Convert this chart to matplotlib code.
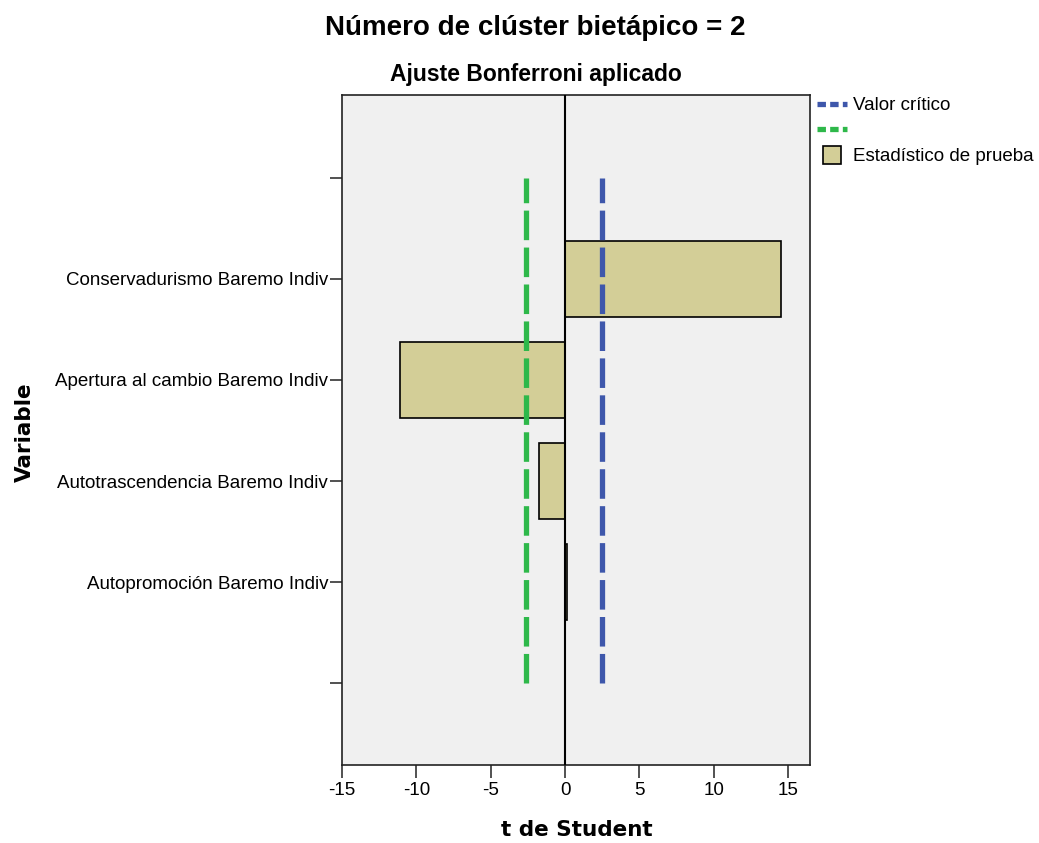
import matplotlib
matplotlib.use('Agg')
import matplotlib.pyplot as plt
from matplotlib.lines import Line2D

plt.rcParams['font.family'] = ['Liberation Sans', 'DejaVu Sans']

# data
variables = ['Autopromoción Baremo Indiv',
             'Autotrascendencia Baremo Indiv',
             'Apertura al cambio Baremo Indiv',
             'Conservadurismo Baremo Indiv']
t_values = [0.15, -1.75, -11.1, 14.55]
crit_low = -2.62
crit_high = 2.49

bar_color = '#d3ce97'
blue = '#3e57ab'
green = '#2eb84a'

fig = plt.figure(figsize=(10.39, 8.43), dpi=100)
ax = fig.add_axes([0.3292, 0.0925, 0.4504, 0.7948])
ax.set_facecolor('#f0f0f0')

ypos = list(range(1, len(variables) + 1))
ax.barh(ypos, t_values, height=0.75, color=bar_color, edgecolor='black', linewidth=1.2, zorder=2)
ax.axvline(0, color='black', linewidth=1.5, zorder=3)

dash = (0, (5.6, 1.4))
ax.plot([crit_high, crit_high], [0, 5], color=blue, linewidth=3.8, linestyle=dash, zorder=4)
ax.plot([crit_low, crit_low], [0, 5], color=green, linewidth=3.8, linestyle=dash, zorder=4)

ax.set_xlim(-15, 16.48)
ax.set_ylim(-0.81, 5.82)
ax.set_xticks([-15, -10, -5, 0, 5, 10, 15])
ax.set_xticklabels(['-15', '-10', '-5', '0', '5', '10', '15'])
ax.set_yticks([0] + ypos + [5])
ax.set_yticklabels([''] + variables + [''])
ax.tick_params(axis='both', length=9, width=1.2, labelsize=13.5, color='#333333')
ax.tick_params(axis='y', pad=1)
ax.tick_params(axis='x', pad=3)
for s in ax.spines.values():
    s.set_linewidth(1.2)
    s.set_color('#222222')

fig.text(535 / 1039, 1 - 28 / 843, 'Número de clúster bietápico = 2', ha='center', va='center',
         fontsize=20, fontweight='bold')
fig.text(536 / 1039, 1 - 75 / 843, 'Ajuste Bonferroni aplicado', ha='center', va='center',
         fontsize=16.5, fontweight='bold')
fig.text(577 / 1039, 1 - 830 / 843, 't de Student', ha='center', va='center',
         fontsize=15.5, fontweight='bold', family='DejaVu Sans')
fig.text(25 / 1039, 1 - 432 / 843, 'Variable', ha='center', va='center', rotation=90,
         fontsize=15.5, fontweight='bold', family='DejaVu Sans')

handles = [
    Line2D([], [], color=blue, linewidth=3.8, linestyle=(0, (1.6, 0.8))),
    Line2D([], [], color=green, linewidth=3.8, linestyle=(0, (1.6, 0.8))),
    Line2D([], [], marker='s', markersize=13, markerfacecolor=bar_color,
           markeredgecolor='black', markeredgewidth=1.2, linestyle='none'),
]
labels = ['Valor crítico', ' ', 'Estadístico de prueba']
fig.legend(handles, labels, loc='upper left', bbox_to_anchor=(817 / 1039, 1 - 97 / 843),
           frameon=False, fontsize=13.5, handlelength=1.6, handletextpad=0.3,
           labelspacing=0.45, borderaxespad=0, borderpad=0)

fig.savefig('out.png', dpi=100)
